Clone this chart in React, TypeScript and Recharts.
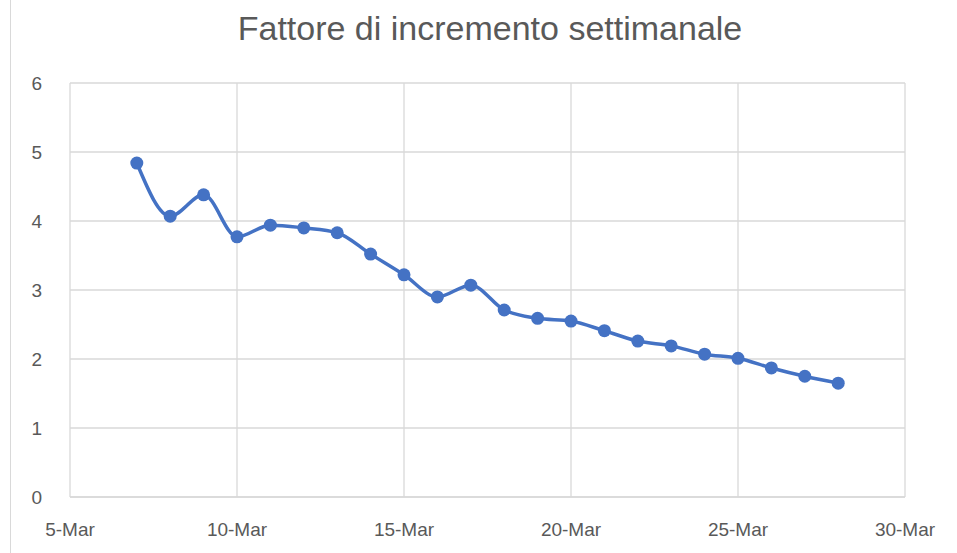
import { CartesianGrid, Line, LineChart, XAxis, YAxis } from "recharts";

// Excel-ish palette
const LINE = "#4472c4";
const GRID = "#d9d9d9";
const TEXT = "#595959";

const days = [7, 8, 9, 10, 11, 12, 13, 14, 15, 16, 17, 18, 19, 20, 21, 22, 23, 24, 25, 26, 27, 28];
const factor = [
  4.84, 4.07, 4.38, 3.77, 3.94, 3.9, 3.83, 3.52, 3.22, 2.9, 3.07, 2.71, 2.59, 2.55,
  2.41, 2.26, 2.19, 2.07, 2.01, 1.87, 1.75, 1.65,
];
const xTicks = [5, 10, 15, 20, 25, 30];
const yTicks = [0, 1, 2, 3, 4, 5, 6];

const data = days.map((day, i) => ({ day, factor: factor[i] }));

const FONT = "'Liberation Sans', sans-serif";

export default function App() {
  return (
    <div style={{ position: "absolute", left: 0, top: 0, width: 957, height: 553, background: "#fff" }}>
      <div style={{ position: "absolute", left: 10, top: 0, width: 1, height: 553, background: GRID }} />
      <div
        style={{
          position: "absolute",
          left: 0,
          top: 6,
          width: 980,
          textAlign: "center",
          fontFamily: FONT,
          fontSize: 34,
          lineHeight: "44px",
          color: TEXT,
        }}
      >
        Fattore di incremento settimanale
      </div>
      <LineChart
        width={957}
        height={553}
        data={data}
        margin={{ top: 83, right: 52, left: 10, bottom: 26 }}
      >
        <CartesianGrid stroke={GRID} strokeWidth={1.3} />
        <XAxis
          dataKey="day"
          type="number"
          domain={[5, 30]}
          ticks={xTicks}
          tickFormatter={(d) => `${d}-Mar`}
          tick={{ fontSize: 19, fill: TEXT, fontFamily: FONT }}
          tickLine={false}
          axisLine={{ stroke: GRID, strokeWidth: 1.3 }}
          tickMargin={20}
          height={30}
        />
        <YAxis
          domain={[0, 6]}
          ticks={yTicks}
          tick={{ fontSize: 19, fill: TEXT, fontFamily: FONT }}
          tickLine={false}
          axisLine={false}
          tickMargin={22}
          width={60}
        />
        <Line
          type="monotone"
          dataKey="factor"
          stroke={LINE}
          strokeWidth={3.5}
          dot={{ r: 6.5, fill: LINE, stroke: LINE, strokeWidth: 0 }}
          isAnimationActive={false}
        />
      </LineChart>
    </div>
  );
}
